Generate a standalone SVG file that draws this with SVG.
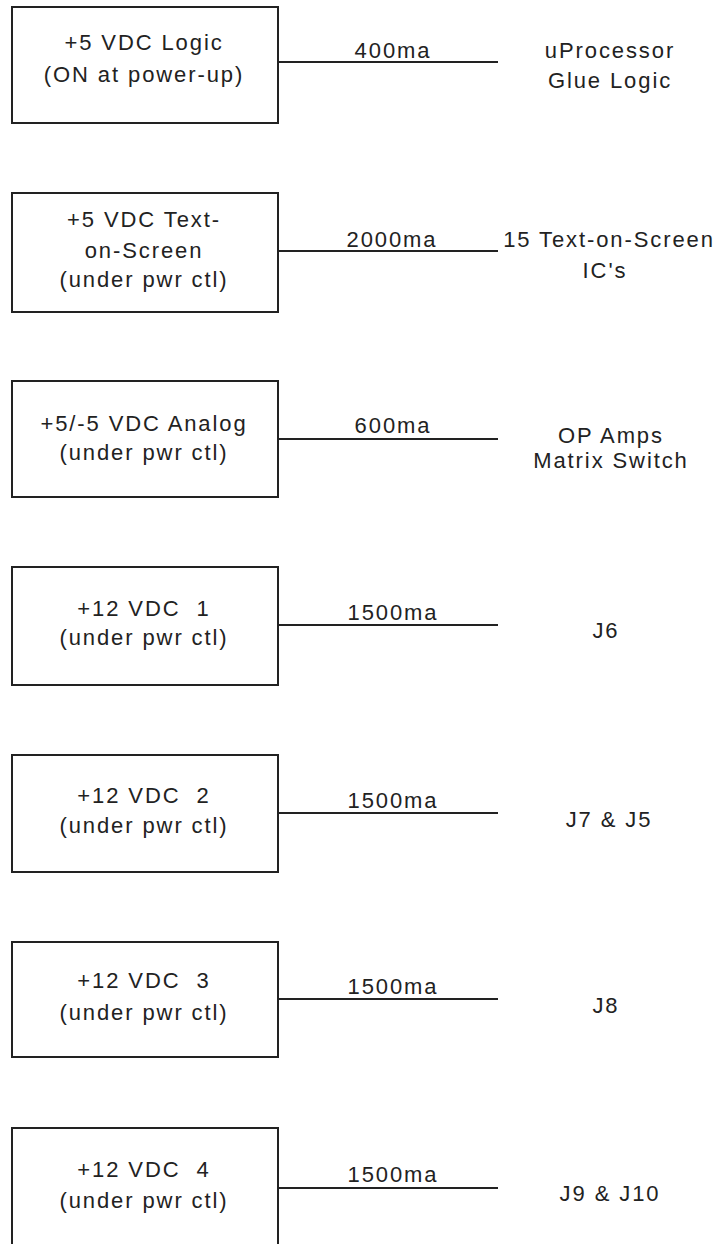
<svg xmlns="http://www.w3.org/2000/svg" width="720" height="1244" viewBox="0 0 720 1244">
<style>
.box{fill:#fff;stroke:#222;stroke-width:2}
.wire{stroke:#222;stroke-width:2;fill:none}
text{font-family:"Liberation Sans",Arial,sans-serif;font-size:22px;fill:#222;letter-spacing:1.9px;text-anchor:middle;white-space:pre}
</style>
<rect width="720" height="1244" fill="#fff"/>
<g id="connectors">
<line class="wire" x1="278" y1="62" x2="498" y2="62"/>
<line class="wire" x1="278" y1="251" x2="498" y2="251"/>
<line class="wire" x1="278" y1="439" x2="498" y2="439"/>
<line class="wire" x1="278" y1="625" x2="498" y2="625"/>
<line class="wire" x1="278" y1="813" x2="498" y2="813"/>
<line class="wire" x1="278" y1="999" x2="498" y2="999"/>
<line class="wire" x1="278" y1="1188" x2="498" y2="1188"/>
<text x="393" y="58">400ma</text>
<text x="392" y="247">2000ma</text>
<text x="393" y="433">600ma</text>
<text x="393" y="620">1500ma</text>
<text x="393" y="808">1500ma</text>
<text x="393" y="994">1500ma</text>
<text x="393" y="1182">1500ma</text>
</g>
<g id="node1">
<rect class="box" x="12" y="7" width="266" height="116"/>
<text x="144" y="50">+5 VDC Logic</text>
<text x="144" y="82">(ON at power-up)</text>
</g>
<g id="load1">
<text x="610" y="58">uProcessor</text>
<text x="610" y="88">Glue Logic</text>
</g>
<g id="node2">
<rect class="box" x="12" y="193" width="266" height="119"/>
<text x="144" y="227">+5 VDC Text-</text>
<text x="144" y="258">on-Screen</text>
<text x="144" y="287">(under pwr ctl)</text>
</g>
<g id="load2">
<text x="609" y="247">15 Text-on-Screen</text>
<text x="605" y="278">IC's</text>
</g>
<g id="node3">
<rect class="box" x="12" y="381" width="266" height="116"/>
<text x="144" y="431">+5/-5 VDC Analog</text>
<text x="144" y="460">(under pwr ctl)</text>
</g>
<g id="load3">
<text x="611" y="443">OP Amps</text>
<text x="611" y="468">Matrix Switch</text>
</g>
<g id="node4">
<rect class="box" x="12" y="567" width="266" height="118"/>
<text x="144" y="616">+12 VDC  1</text>
<text x="144" y="645">(under pwr ctl)</text>
</g>
<g id="load4"><text x="606" y="638">J6</text></g>
<g id="node5">
<rect class="box" x="12" y="755" width="266" height="117"/>
<text x="144" y="803">+12 VDC  2</text>
<text x="144" y="833">(under pwr ctl)</text>
</g>
<g id="load5"><text x="609" y="827">J7 &amp; J5</text></g>
<g id="node6">
<rect class="box" x="12" y="942" width="266" height="115"/>
<text x="144" y="988">+12 VDC  3</text>
<text x="144" y="1020">(under pwr ctl)</text>
</g>
<g id="load6"><text x="606" y="1013">J8</text></g>
<g id="node7">
<rect class="box" x="12" y="1128" width="266" height="130"/>
<text x="144" y="1177">+12 VDC  4</text>
<text x="144" y="1208">(under pwr ctl)</text>
</g>
<g id="load7"><text x="610" y="1201">J9 &amp; J10</text></g>
</svg>
